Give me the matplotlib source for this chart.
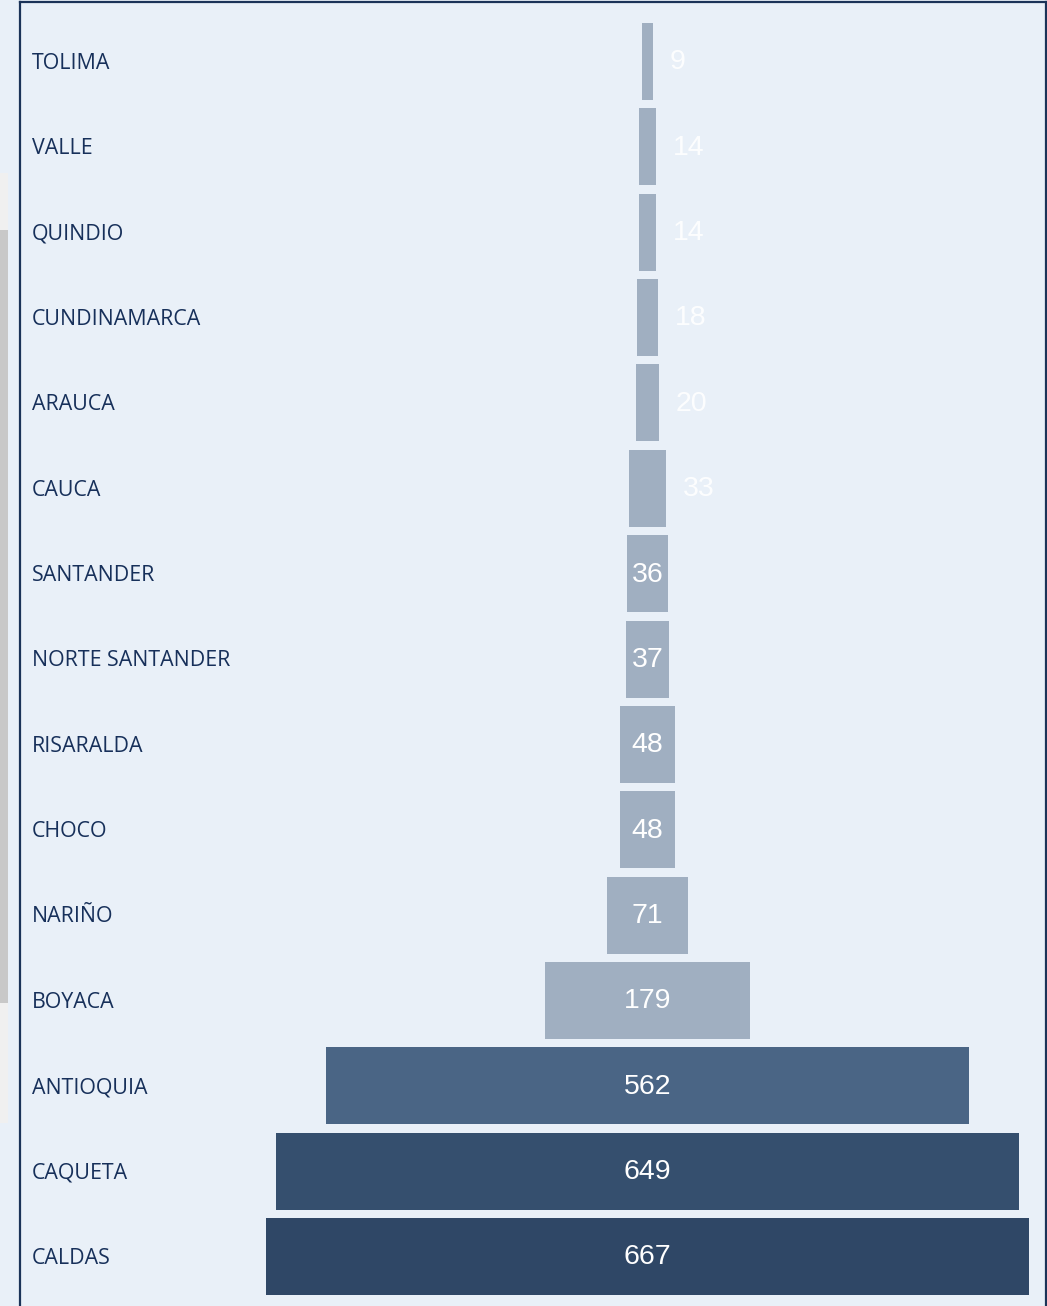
import numpy as np
import matplotlib.pyplot as plt
from matplotlib.patches import Rectangle
import matplotlib.transforms as mtransforms

#%% data
departments = ['TOLIMA', 'VALLE', 'QUINDIO', 'CUNDINAMARCA', 'ARAUCA', 'CAUCA',
               'SANTANDER', 'NORTE SANTANDER', 'RISARALDA', 'CHOCO', 'NARIÑO',
               'BOYACA', 'ANTIOQUIA', 'CAQUETA', 'CALDAS']
cases = [9, 14, 14, 18, 20, 33, 36, 37, 48, 48, 71, 179, 562, 649, 667]
bar_colors = ['#A0AFC1'] * 12 + ['#4A6585', '#354F6E', '#2F4766']

#%% figure
W, H = 1047, 1306
bg = '#E9F0F8'
navy = '#1B3358'

fig = plt.figure(figsize=(W/100, H/100), dpi=100)
fig.patch.set_facecolor(bg)

# screenshot leftovers on the far left
fig.patches.append(Rectangle((0, 1-1123/H), 8/W, (1123-173)/H, transform=fig.transFigure,
                             facecolor='#F0F0F0', edgecolor='none', zorder=0))
fig.patches.append(Rectangle((0, 1-1003/H), 8/W, (1003-230)/H, transform=fig.transFigure,
                             facecolor='#C8C8C8', edgecolor='none', zorder=0))

ax = fig.add_axes([20/W, 0, 1026/W, 1304/H])
ax.set_facecolor(bg)

px = 1.144          # pixels per case
row = 85.36         # pixels per row
ax.set_xlim(-627.5/px, (1026-627.5)/px)
ax.set_ylim((1306-61.5)/row, (2-61.5)/row)

y = np.arange(len(departments))
vals = np.array(cases)
ax.barh(y, vals, left=-vals/2, height=77/row, color=bar_colors, linewidth=0)

for yi, v in zip(y, cases):
    if v >= 36:
        ax.text(0, yi + 0.01, str(v), ha='center', va='center', color='white',
                fontsize=20.5, family='Liberation Sans')
    else:
        ax.text(v/2 + 17/px, yi + 0.01, str(v), ha='left', va='center', color='white',
                fontsize=20.5, family='Liberation Sans', alpha=0.9)

trans = mtransforms.blended_transform_factory(ax.transAxes, ax.transData)
for yi, name in zip(y, departments):
    ax.text(12/1026, yi + 0.02, name, transform=trans, ha='left', va='center',
            color='#17305A', fontsize=15.4, family='Open Sans')

ax.set_xticks([]); ax.set_yticks([])
for s in ['left', 'top', 'right']:
    ax.spines[s].set_color(navy)
    ax.spines[s].set_linewidth(1.6)
ax.spines['bottom'].set_visible(False)

fig.savefig('out.png', dpi=100, facecolor=bg)
